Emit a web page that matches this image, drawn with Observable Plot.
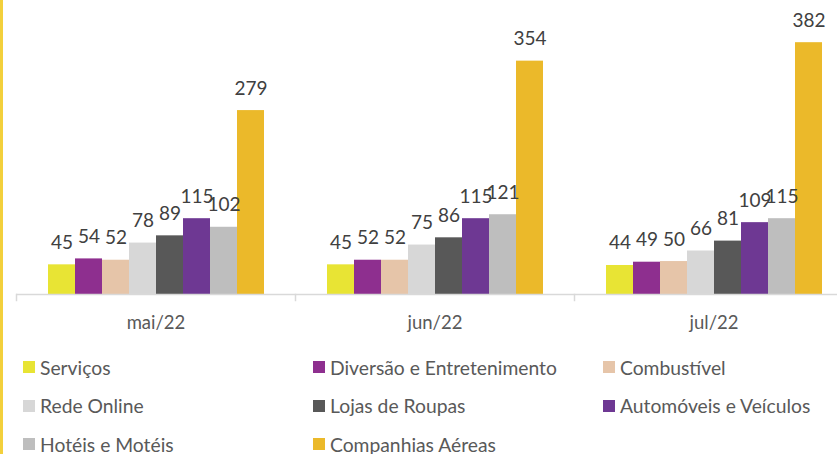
<!DOCTYPE html>
<html>
<head>
<meta charset="utf-8">
<script src="https://cdn.jsdelivr.net/npm/d3@7"></script>
<script src="https://cdn.jsdelivr.net/npm/@observablehq/plot@0.6"></script>
<style>
  html, body { margin: 0; padding: 0; background: #fff; overflow: hidden; width: 837px; height: 454px; }
  #wrap { position: relative; width: 837px; height: 454px; overflow: hidden; font-family: Lato, "Open Sans", sans-serif; }
  #edge { position: absolute; left: 0; top: 0; width: 3px; height: 454px; background: #f3d03c; }
  #chart { width: 853px; }
  #chart svg { display: block; max-width: none !important; }
  #legend { position: absolute; left: 23px; top: 350px; display: grid; grid-template-columns: 290px 290px 240px; grid-auto-rows: 38.5px; }
  .item { display: flex; align-items: center; font-size: 19.3px; color: #595959; white-space: nowrap; height: 34px; }
  .sw { width: 12px; height: 12px; margin-right: 5px; flex: none; }
</style>
</head>
<body>
<div id="wrap">
  <div id="chart"></div>
  <div id="legend"></div>
  <div id="edge"></div>
</div>
<script>
const months = ["mai/22", "jun/22", "jul/22"];
const categories = ["Serviços", "Diversão e Entretenimento", "Combustível", "Rede Online", "Lojas de Roupas", "Automóveis e Veículos", "Hotéis e Motéis", "Companhias Aéreas"];
const colors = ["#e8e434", "#8e2f8f", "#e6c5a9", "#d7d7d7", "#585858", "#6e3893", "#bebebe", "#ebb92a"];

const servicos = [45, 45, 44];
const diversao = [54, 52, 49];
const combustivel = [52, 52, 50];
const redeOnline = [78, 75, 66];
const lojasRoupas = [89, 86, 81];
const automoveis = [115, 115, 109];
const hoteis = [102, 121, 115];
const companhias = [279, 354, 382];

const series = [servicos, diversao, combustivel, redeOnline, lojasRoupas, automoveis, hoteis, companhias];
const data = [];
months.forEach((m, i) => {
  categories.forEach((c, j) => data.push({month: m, category: c, value: series[j][i]}));
});

const chart = Plot.plot({
  width: 853,
  height: 340,
  marginLeft: 16,
  marginRight: 0,
  marginTop: 0,
  marginBottom: 40,
  style: {fontFamily: "Lato, 'Open Sans', sans-serif", background: "transparent", maxWidth: "none"},
  fx: {domain: months, padding: 0, label: null},
  x: {domain: categories, paddingInner: 0, paddingOuter: 1.09, axis: null},
  y: {domain: [0, 446], insetBottom: 6, axis: null},
  color: {domain: categories, range: colors},
  marks: [
    Plot.barY(data, {fx: "month", x: "category", y: "value", fill: "category"}),
    Plot.ruleY([0], {stroke: "#d9d9d9", strokeWidth: 1.5}),
    Plot.frame({anchor: "left", stroke: "#d9d9d9", strokeWidth: 1.5, insetTop: 294}),
    Plot.text(data, {fx: "month", x: "category", y: "value", text: d => String(d.value), lineAnchor: "bottom", dy: -16, fontSize: 19, fill: "#404040"}),
    Plot.axisFx({anchor: "bottom", tickSize: 0, tickPadding: 15, fontSize: 18.5, color: "#595959", label: null})
  ]
});
document.getElementById("chart").appendChild(chart);

const legend = document.getElementById("legend");
categories.forEach((c, j) => {
  const it = document.createElement("div");
  it.className = "item";
  const sw = document.createElement("span");
  sw.className = "sw";
  sw.style.background = colors[j];
  const t = document.createElement("span");
  t.textContent = c;
  it.appendChild(sw);
  it.appendChild(t);
  legend.appendChild(it);
});
</script>
</body>
</html>
